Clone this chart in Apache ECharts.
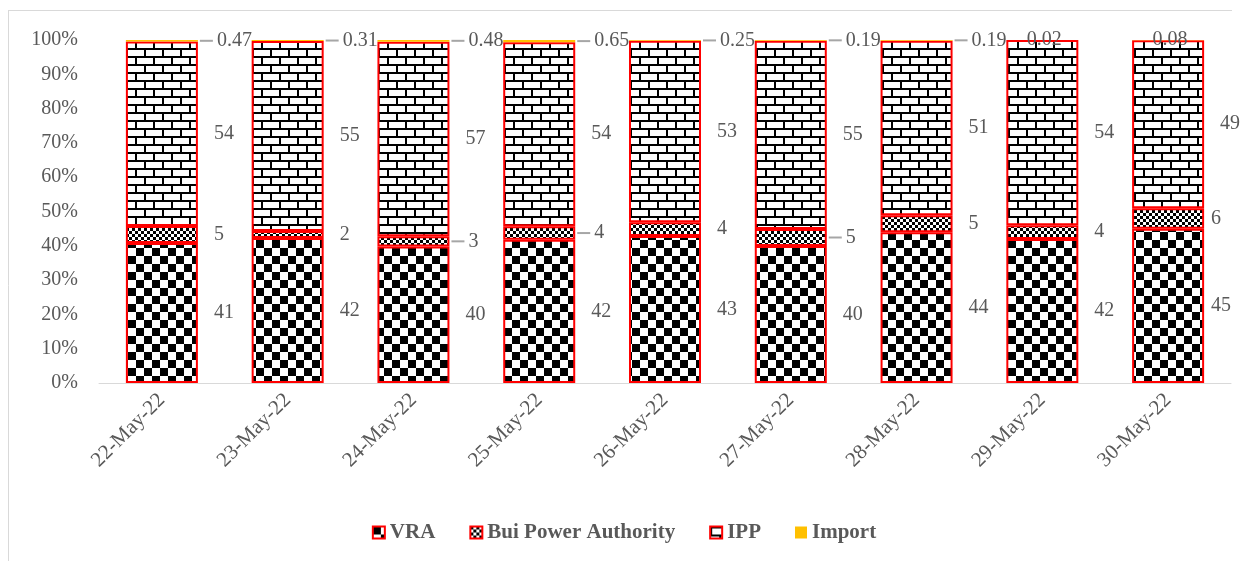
<!DOCTYPE html>
<html>
<head>
<meta charset="utf-8">
<script src="https://cdn.jsdelivr.net/npm/echarts@6/dist/echarts.min.js"></script>
<style>
  html, body { margin: 0; padding: 0; background: #fff; }
  #chart { width: 1248px; height: 561px; }
</style>
</head>
<body>
<div id="chart"></div>
<script>
// daily generation share by source
var dates = ['22-May-22', '23-May-22', '24-May-22', '25-May-22', '26-May-22',
             '27-May-22', '28-May-22', '29-May-22', '30-May-22'];
var vraVals    = [41, 42, 40, 42, 43, 40, 44, 42, 45];
var buiVals    = [5, 2, 3, 4, 4, 5, 5, 4, 6];
var ippVals    = [54, 55, 57, 54, 53, 55, 51, 54, 49];
var importVals = [0.47, 0.31, 0.48, 0.65, 0.25, 0.19, 0.19, 0.02, 0.08];
var yTicks = [0, 10, 20, 30, 40, 50, 60, 70, 80, 90, 100];

var FONT = '"Liberation Serif", "DejaVu Serif", serif';
var GREY = '#595959';

// fill patterns (checker / small checker / brick)
function checker(size) {
  var c = document.createElement('canvas');
  c.width = size * 2; c.height = size * 2;
  var g = c.getContext('2d');
  g.fillStyle = '#fff'; g.fillRect(0, 0, c.width, c.height);
  g.fillStyle = '#000';
  g.fillRect(0, 0, size, size);
  g.fillRect(size, size, size, size);
  return c;
}
function brick() {
  var c = document.createElement('canvas');
  c.width = 18; c.height = 16;
  var g = c.getContext('2d');
  g.fillStyle = '#fff'; g.fillRect(0, 0, 18, 16);
  g.fillStyle = '#000';
  g.fillRect(0, 0, 18, 2);
  g.fillRect(0, 8, 18, 2);
  g.fillRect(0, 0, 2, 8);
  g.fillRect(9, 8, 2, 8);
  return c;
}

var totals = dates.map(function (d, i) {
  return vraVals[i] + buiVals[i] + ippVals[i] + importVals[i];
});

// label variants: which ones get a short leader line, which sit above the bar
var leaderImport = [true, true, true, true, true, true, true, false, false];
var leaderBui = [false, false, true, true, false, true, false, false, false];

function items(vals, leaders, series) {
  return vals.map(function (v, i) {
    var it = { value: v / totals[i] * 100, raw: v, lead: leaders ? leaders[i] : false };
    var lab = {};
    if (series === 'import' && !leaders[i]) {
      lab.position = 'inside';
    }
    if (it.lead) {
      lab.distance = 2;
    }
    if (i === dates.length - 1 && (series === 'vra' || series === 'bui')) {
      lab.distance = 3;
    }
    it.label = lab;
    return it;
  });
}

function labelCfg() {
  return {
    show: true,
    position: 'right',
    distance: 12,
    color: GREY,
    fontFamily: FONT,
    fontSize: 20,
    formatter: function (p) {
      if (p.data.lead) return '{ln|}{t|' + p.data.raw + '}';
      return '{t|' + p.data.raw + '}';
    },
    rich: {
      ln: { width: 13, height: 2, backgroundColor: '#a6a6a6' },
      t: { color: GREY, fontFamily: FONT, fontSize: 20, padding: [0, 0, 0, 4] }
    }
  };
}

function barSeries(name, data, fill, border) {
  return {
    name: name,
    type: 'bar',
    stack: 'total',
    barWidth: 72,
    data: data,
    label: labelCfg(),
    itemStyle: {
      color: fill,
      borderColor: border ? '#ff0000' : 'transparent',
      borderWidth: border ? 2 : 0
    }
  };
}

var chart = echarts.init(document.getElementById('chart'));
chart.setOption({
  animation: false,
  backgroundColor: '#fff',
  textStyle: { fontFamily: FONT },
  graphic: [
    { type: 'line', shape: { x1: 8.5, y1: 10, x2: 8.5, y2: 561 }, style: { stroke: '#d9d9d9', lineWidth: 1 } },
    { type: 'line', shape: { x1: 8, y1: 10.5, x2: 1232, y2: 10.5 }, style: { stroke: '#d9d9d9', lineWidth: 1 } }
  ],
  grid: { left: 99, right: 17, top: 40, bottom: 178 },
  legend: {
    bottom: 13,
    left: 'center',
    itemWidth: 12,
    itemHeight: 12,
    itemGap: 34,
    icon: 'rect',
    textStyle: { color: GREY, fontFamily: FONT, fontSize: 21, fontWeight: 'bold' },
    data: ['VRA', 'Bui Power Authority', 'IPP', 'Import']
  },
  xAxis: {
    type: 'category',
    data: dates,
    axisLine: { lineStyle: { color: '#d9d9d9', width: 1 } },
    axisTick: { show: false },
    axisLabel: {
      rotate: 45,
      margin: 14,
      color: GREY,
      fontFamily: FONT,
      fontSize: 21
    }
  },
  yAxis: {
    type: 'value',
    min: yTicks[0],
    max: yTicks[yTicks.length - 1],
    interval: yTicks[1] - yTicks[0],
    splitLine: { show: false },
    axisLine: { show: false },
    axisTick: { show: false },
    axisLabel: {
      formatter: '{value}%',
      margin: 21,
      color: GREY,
      fontFamily: FONT,
      fontSize: 20
    }
  },
  series: [
    barSeries('VRA', items(vraVals, null, 'vra'), { image: checker(8), repeat: 'repeat' }, true),
    barSeries('Bui Power Authority', items(buiVals, leaderBui, 'bui'), { image: checker(3), repeat: 'repeat' }, true),
    barSeries('IPP', items(ippVals, null, 'ipp'), { image: brick(), repeat: 'repeat' }, true),
    barSeries('Import', items(importVals, leaderImport, 'import'), '#ffc000', false)
  ]
});
</script>
</body>
</html>
